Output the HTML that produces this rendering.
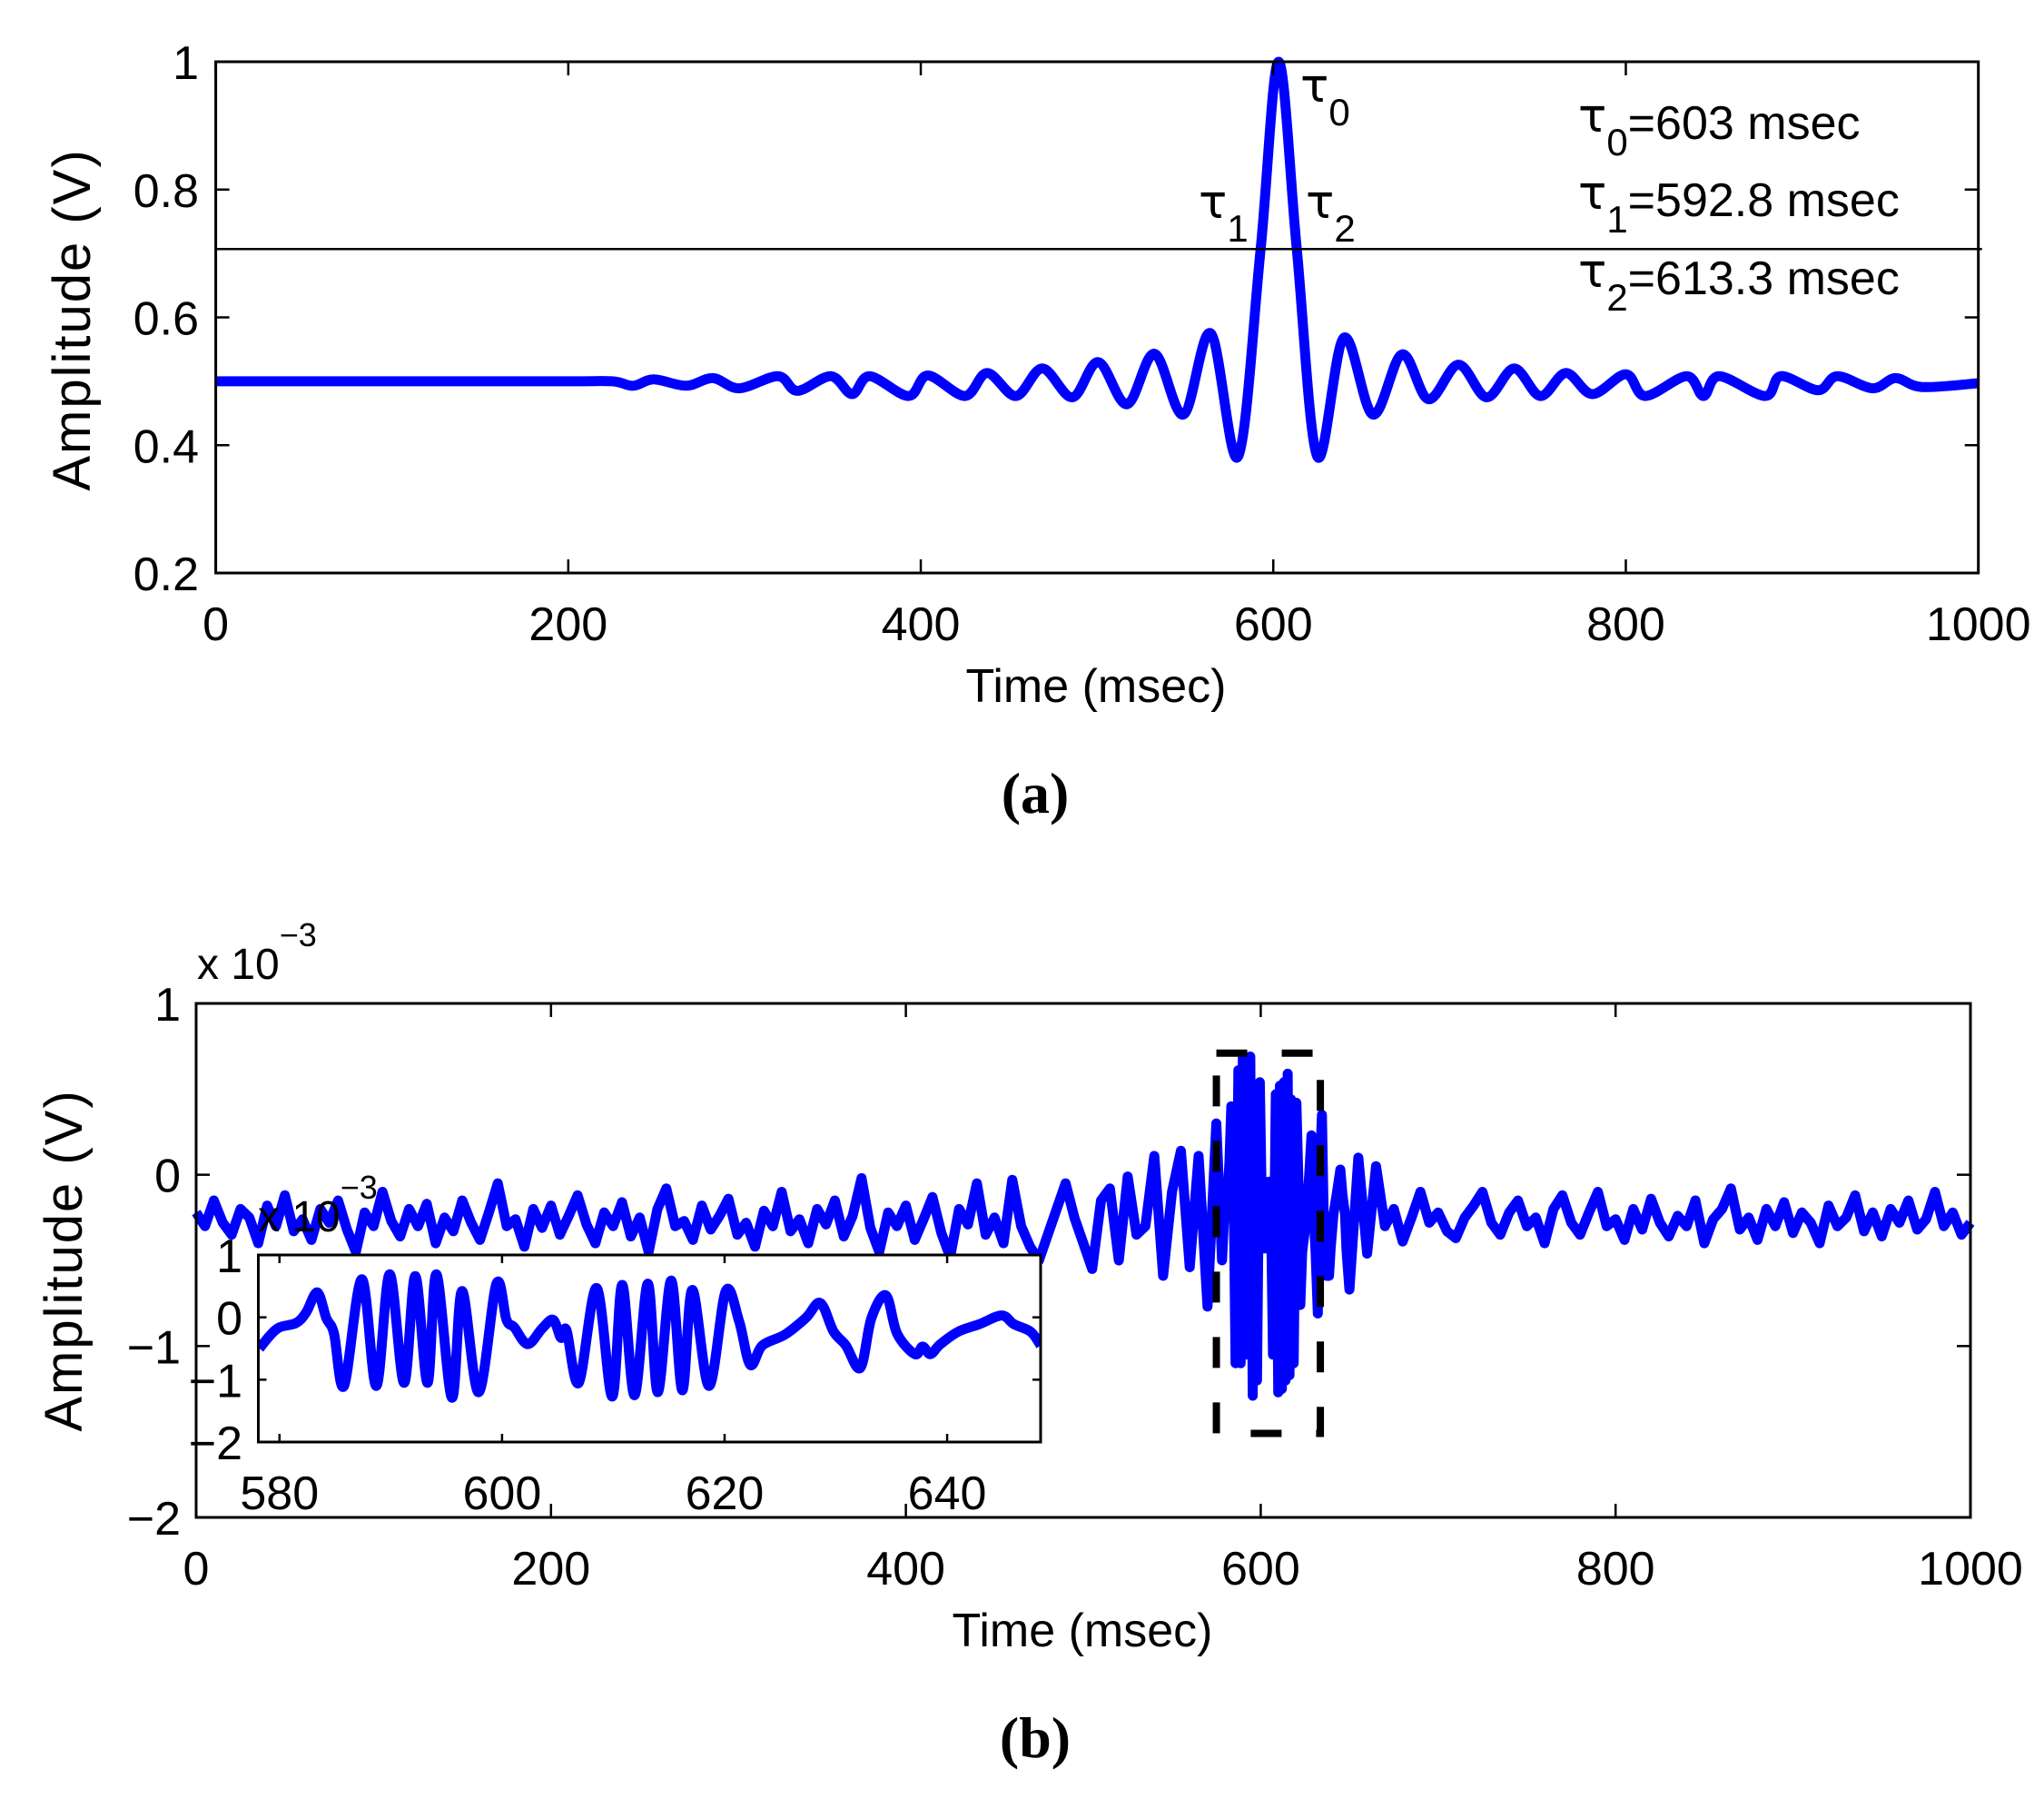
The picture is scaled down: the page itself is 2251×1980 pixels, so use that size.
<!DOCTYPE html>
<html><head><meta charset="utf-8">
<style>
html,body{margin:0;padding:0;background:#fff;}
svg{display:block;font-family:"Liberation Sans",sans-serif;}
</style></head>
<body>
<svg id="fig" width="2251" height="1980" viewBox="0 0 2251 1980" xmlns="http://www.w3.org/2000/svg"></svg>
<script>
// ---------- Panel (a) data: extrema ----------
const aTimes = [0,100,200,225,237,248.5,267,282,297,319,330,349,361,371,393,404,425,437.7,454,469,486,500.7,517,532.6,549,564.5,580,592.8,603,613.3,625,640,656.5,673,688,705,721,736.6,751.5,766,781,800,811,834.5,844,853,879,888,909,920,940,953,968,1000];
const aValues = [0.5,0.5,0.5,0.5,0.493,0.503,0.493,0.505,0.489,0.508,0.485,0.508,0.48,0.508,0.477,0.509,0.477,0.513,0.477,0.52,0.475,0.53,0.464,0.543,0.448,0.575,0.382,0.707,1.0,0.707,0.382,0.568,0.448,0.542,0.472,0.526,0.475,0.52,0.477,0.513,0.48,0.511,0.477,0.508,0.477,0.508,0.477,0.508,0.486,0.508,0.489,0.505,0.491,0.497];
const aXTicks = [0,200,400,600,800,1000];
const aYTicks = [0.2,0.4,0.6,0.8,1];
const aYTickLabels = ["0.2","0.4","0.6","0.8","1"];
const aThreshold = 0.707;

// ---------- Panel (b) data (units of 1e-3 V) ----------
const bPreValues = [-0.22,-0.30,-0.15,-0.28,-0.35,-0.20,-0.25,-0.40,-0.18,-0.30,
-0.12,-0.33,-0.26,-0.38,-0.20,-0.28,-0.15,-0.32,-0.45,-0.22,
-0.30,-0.10,-0.27,-0.36,-0.20,-0.30,-0.17,-0.40,-0.25,-0.33,
-0.15,-0.28,-0.38,-0.22,-0.05,-0.30,-0.26,-0.42,-0.20,-0.31,
-0.18,-0.35,-0.24,-0.12,-0.29,-0.40,-0.22,-0.30,-0.16,-0.36,
-0.25,-0.45,-0.20,-0.08,-0.30,-0.27,-0.38,-0.18,-0.32,-0.24,
-0.14,-0.35,-0.28,-0.42,-0.21,-0.30,-0.10,-0.33,-0.26,-0.40,
-0.20,-0.29,-0.15,-0.36,-0.24,-0.02,-0.31,-0.45,-0.22,-0.30,
-0.18,-0.38,-0.26,-0.13,-0.34,-0.48,-0.20,-0.29,-0.05,-0.35,
-0.25,-0.40,-0.03,
-0.30,-0.42,-0.50,-0.35,-0.20,-0.05,-0.25,-0.40,-0.55,-0.15,-0.08,-0.50,-0.01,-0.35,-0.30,0.11,-0.59,-0.10,0.14,-0.54,0.11,-0.77,0.30];
const bPreStart = 0, bStep = 5;
const burstTimes = [578.2,579.1,580,581.5,582.4,583.4,584.2,584.9,585.8,587.4,588.7,589.9,591.2,592.2,593.3,594.1,595.5,596.4,597.9,599.5,600.4,601.1,602.3,603.6,604.6,605.3,605.8,606.9,608.5,609.9,610.8,611.9,613.1,614.0,615.2,616.2,617.1,618.6,620.1,621.3,622.3,623.4,625.4,627.3,628.6,629.8,630.9,632.2,633.2,634.5,635.5,637.1,637.8,638.5,639.4,641.0,642.9,644.9,646.0,647.5,648.4];
const burstValues = [-0.50,-0.30,-0.16,-0.09,0.08,0.40,-0.01,-0.26,-1.10,0.61,-1.10,0.69,-1.05,0.66,-1.05,0.69,-1.29,0.42,-1.20,0.54,-0.04,-0.16,-0.43,-0.18,-0.04,-0.33,-0.21,-1.05,0.47,-1.27,0.52,-1.25,0.54,-1.20,0.59,-1.17,0.44,-1.10,0.42,-0.06,-0.76,-0.45,-0.28,-0.01,0.23,-0.23,-0.45,-0.81,-0.01,0.35,-0.26,-0.59,-0.47,-0.59,-0.43,-0.23,-0.11,0.03,-0.11,-0.23,-0.45];
const bPostValues = [-0.67,0.10,-0.46,0.05,-0.30,-0.20,-0.39,-0.25,-0.10,-0.28,-0.22,-0.33,-0.37,-0.25,-0.18,-0.10,-0.28,-0.35,-0.22,-0.15,-0.30,-0.25,-0.40,-0.20,-0.12,-0.28,-0.35,-0.22,-0.10,-0.30,-0.26,-0.38,-0.20,-0.32,-0.14,-0.28,-0.36,-0.24,-0.30,-0.15,-0.40,-0.26,-0.20,-0.08,-0.32,-0.25,-0.38,-0.20,-0.30,-0.16,-0.34,-0.22,-0.28,-0.40,-0.18,-0.30,-0.25,-0.12,-0.33,-0.22,-0.36,-0.20,-0.28,-0.15,-0.32,-0.26,-0.10,-0.30,-0.22,-0.35,-0.28];
const bPostStart = 650;
const bXTicks = [0,200,400,600,800,1000];
const bYTicks = [-2,-1,0,1];
const bYTickLabels = ["\u22122","\u22121","0","1"];
const insetXTicks = [580,600,620,640];
const insetYTicks = [-2,-1,0,1];
const insetYTickLabels = ["\u22122","\u22121","0","1"];
const zoomBox = {t0:575, t1:633.6, v0:-1.51, v1:0.71};

const NS = "http://www.w3.org/2000/svg";
const svg = document.getElementById('fig');
function el(tag, attrs, parent){
  const e = document.createElementNS(NS, tag);
  for (const k in attrs) e.setAttribute(k, attrs[k]);
  (parent||svg).appendChild(e);
  return e;
}
function txt(s, x, y, size, anchor, parent, extra){
  const t = el('text', Object.assign({x:x, y:y, 'font-size':size, 'text-anchor':anchor||'middle', fill:'#000'}, extra||{}), parent);
  t.textContent = s;
  return t;
}

// ---------- Panel (a) ----------
const A = {l:237.6, r:2178.7, t:68, b:631, x0:0, x1:1000, y0:0.2, y1:1};
const ax = t => A.l + (t-A.x0)/(A.x1-A.x0)*(A.r-A.l);
const ay = v => A.b - (v-A.y0)/(A.y1-A.y0)*(A.b-A.t);
const gA = el('g', {});



function catmull(pts){
  let d = 'M'+pts[0][0].toFixed(1)+','+pts[0][1].toFixed(1);
  for (let i=0;i<pts.length-1;i++){
    const p0 = pts[i-1]||pts[i], p1=pts[i], p2=pts[i+1], p3=pts[i+2]||pts[i+1];
    const c1x = p1[0]+(p2[0]-p0[0])/6, c1y = p1[1]+(p2[1]-p0[1])/6;
    const c2x = p2[0]-(p3[0]-p1[0])/6, c2y = p2[1]-(p3[1]-p1[1])/6;
    d += ' C'+c1x.toFixed(1)+','+c1y.toFixed(1)+' '+c2x.toFixed(1)+','+c2y.toFixed(1)+' '+p2[0].toFixed(1)+','+p2[1].toFixed(1);
  }
  return d;
}
const aPts = aTimes.map((t,i)=>[ax(t), ay(aValues[i])]);
const aLine = el('path', {d:catmull(aPts), fill:'none', stroke:'#0000ff', 'stroke-width':11, 'stroke-linejoin':'round'}, gA);


const thr = el('line', {x1:A.l, x2:A.r+4, y1:ay(aThreshold), y2:ay(aThreshold), stroke:'#000', 'stroke-width':2.5}, gA);


const boxA = el('rect', {x:A.l, y:A.t, width:A.r-A.l, height:A.b-A.t, fill:'none', stroke:'#000', 'stroke-width':3}, gA);


aXTicks.forEach(t=>{
  const x = ax(t);
  el('line',{x1:x,x2:x,y1:A.b,y2:A.b-15,stroke:'#000','stroke-width':2.5},gA);
  el('line',{x1:x,x2:x,y1:A.t,y2:A.t+15,stroke:'#000','stroke-width':2.5},gA);
  const lb = txt(String(t), x, 705, 52, 'middle', gA);
  
  
});
aYTicks.forEach((v,i)=>{
  const y = ay(v);
  el('line',{x1:A.l,x2:A.l+15,y1:y,y2:y,stroke:'#000','stroke-width':2.5},gA);
  el('line',{x1:A.r,x2:A.r-15,y1:y,y2:y,stroke:'#000','stroke-width':2.5},gA);
  const lb = txt(aYTickLabels[i], 219, y+19, 52, 'end', gA);
  
  
});
const xtA = txt('Time (msec)', 1207, 773, 52, 'middle', gA);


const ytA = txt('Amplitude (V)', 0, 0, 58, 'middle', gA, {transform:'translate(99,352) rotate(-90)','letter-spacing':'2'});


function tau(x, y, sub, rest, parent, name){
  const t = el('text', {x:x, y:y, 'font-size':52, fill:'#000', 'font-family':'"DejaVu Sans","Liberation Sans",sans-serif'}, parent);
  
  
  const s1 = document.createElementNS(NS,'tspan'); s1.textContent='\u03c4'; t.appendChild(s1);
  const s2 = document.createElementNS(NS,'tspan'); s2.setAttribute('dy','26'); s2.setAttribute('font-size','42'); s2.setAttribute('font-family','"Liberation Sans",sans-serif'); s2.textContent=sub; t.appendChild(s2);
  if (rest){ const s3 = document.createElementNS(NS,'tspan'); s3.setAttribute('dy','-18'); s3.setAttribute('font-family','"Liberation Sans",sans-serif'); s3.textContent=rest; t.appendChild(s3); }
}
tau(1432, 112, '0', '', gA, 'tau0-label');
tau(1320, 240, '1', '', gA, 'tau1-label');
tau(1438, 240, '2', '', gA, 'tau2-label');
tau(1738, 145, '0', '=603 msec', gA, 'tau0-value');
tau(1738, 230, '1', '=592.8 msec', gA, 'tau1-value');
tau(1738, 316, '2', '=613.3 msec', gA, 'tau2-value');
const capA = txt('(a)', 1140, 895, 64, 'middle', gA, {'font-family':'"Liberation Serif",serif','font-weight':'bold'});



// ---------- Panel (b) ----------
const B = {l:216, r:2170, t:1105, b:1671, x0:0, x1:1000, y0:-2, y1:1};
const bx = t => B.l + (t-B.x0)/(B.x1-B.x0)*(B.r-B.l);
const by = v => B.b - (v-B.y0)/(B.y1-B.y0)*(B.b-B.t);
const gB = el('g', {});


const mainPts = [];
bPreValues.forEach((v,i)=>mainPts.push([bPreStart+i*bStep, v]));
burstTimes.forEach((t,i)=>mainPts.push([t, burstValues[i]]));
bPostValues.forEach((v,i)=>mainPts.push([bPostStart+i*bStep, v]));
const bLine = el('path', {d:'M'+mainPts.map(p=>bx(p[0]).toFixed(1)+','+by(p[1]).toFixed(1)).join(' L'), fill:'none', stroke:'#0000ff', 'stroke-width':11, 'stroke-linejoin':'round'}, gB);


const boxB = el('rect', {x:B.l, y:B.t, width:B.r-B.l, height:B.b-B.t, fill:'none', stroke:'#000', 'stroke-width':3}, gB);


bXTicks.forEach(t=>{
  const x = bx(t);
  el('line',{x1:x,x2:x,y1:B.b,y2:B.b-15,stroke:'#000','stroke-width':2.5},gB);
  el('line',{x1:x,x2:x,y1:B.t,y2:B.t+15,stroke:'#000','stroke-width':2.5},gB);
  const lb = txt(String(t), x, 1745, 52, 'middle', gB);
  
  
});
bYTicks.forEach((v,i)=>{
  const y = by(v);
  el('line',{x1:B.l,x2:B.l+15,y1:y,y2:y,stroke:'#000','stroke-width':2.5},gB);
  el('line',{x1:B.r,x2:B.r-15,y1:y,y2:y,stroke:'#000','stroke-width':2.5},gB);
  const lb = txt(bYTickLabels[i], 199, y+19, 52, 'end', gB);
  
  
});
const expB = el('text', {x:217, y:1078, 'font-size':48, fill:'#000'}, gB);


expB.innerHTML = 'x 10<tspan dy="-36" font-size="36">\u22123</tspan>';
const zb = el('rect', {x:bx(zoomBox.t0), y:by(zoomBox.v1), width:bx(zoomBox.t1)-bx(zoomBox.t0), height:by(zoomBox.v0)-by(zoomBox.v1), fill:'none', stroke:'#000', 'stroke-width':8, 'stroke-dasharray':'34,38'}, gB);


const xtB = txt('Time (msec)', 1192, 1813, 52, 'middle', gB);


const ytB = txt('Amplitude (V)', 0, 0, 58, 'middle', gB, {transform:'translate(90,1388) rotate(-90)','letter-spacing':'2'});


const capB = txt('(b)', 1140, 1935, 64, 'middle', gB, {'font-family':'"Liberation Serif",serif','font-weight':'bold'});



// ---------- Inset ----------
const I = {l:284.5, r:1146, t:1382, b:1588, x0:578.1, x1:648.4, y0:-2, y1:1};
const ix = t => I.l + (t-I.x0)/(I.x1-I.x0)*(I.r-I.l);
const iy = v => I.b - (v-I.y0)/(I.y1-I.y0)*(I.b-I.t);
const gI = el('g', {});


el('rect', {x:I.l, y:I.t, width:I.r-I.l, height:I.b-I.t, fill:'#fff', stroke:'none'}, gI);
const clip = el('clipPath', {id:'ic'}, gI);
el('rect', {x:I.l, y:I.t, width:I.r-I.l, height:I.b-I.t}, clip);
const iPts = burstTimes.map((t,i)=>[ix(t), iy(burstValues[i])]);
const iLine = el('path', {d:catmull(iPts), fill:'none', stroke:'#0000ff', 'stroke-width':11, 'stroke-linejoin':'round', 'clip-path':'url(#ic)'}, gI);


const boxI = el('rect', {x:I.l, y:I.t, width:I.r-I.l, height:I.b-I.t, fill:'none', stroke:'#000', 'stroke-width':3}, gI);


insetXTicks.forEach(t=>{
  const x = ix(t);
  el('line',{x1:x,x2:x,y1:I.b,y2:I.b-9,stroke:'#000','stroke-width':2.5},gI);
  el('line',{x1:x,x2:x,y1:I.t,y2:I.t+9,stroke:'#000','stroke-width':2.5},gI);
  const lb = txt(String(t), x, 1662, 52, 'middle', gI);
  
  
});
insetYTicks.forEach((v,i)=>{
  const y = iy(v);
  el('line',{x1:I.l,x2:I.l+9,y1:y,y2:y,stroke:'#000','stroke-width':2.5},gI);
  el('line',{x1:I.r,x2:I.r-9,y1:y,y2:y,stroke:'#000','stroke-width':2.5},gI);
  const lb = txt(insetYTickLabels[i], 267, y+19, 52, 'end', gI);
  
  
});
const expI = el('text', {x:284, y:1356, 'font-size':48, fill:'#000'}, gI);


expI.innerHTML = 'x 10<tspan dy="-36" font-size="36">\u22123</tspan>';
</script>
</body></html>
